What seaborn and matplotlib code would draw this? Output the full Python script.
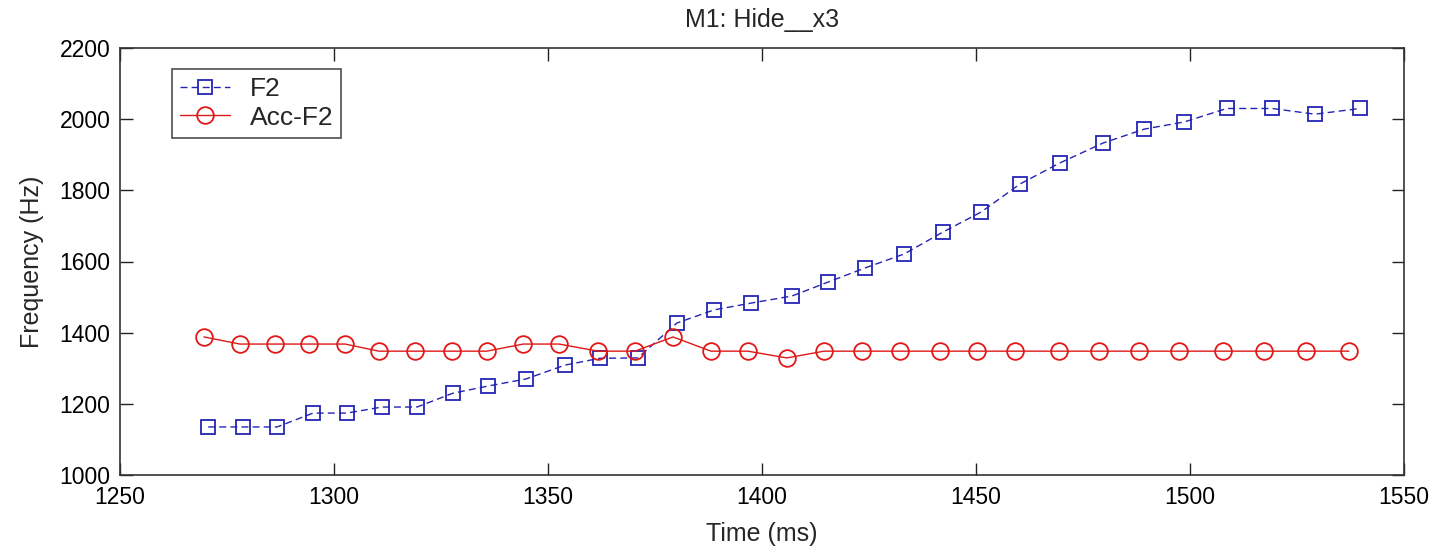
import numpy as np
import pandas as pd
import matplotlib
matplotlib.use("Agg")
import matplotlib.pyplot as plt
import seaborn as sns

# ---- data ----
f2_time = [1270.6, 1278.7, 1286.7, 1295.1, 1303.0, 1311.2, 1319.4, 1327.8, 1336.0, 1344.9,
           1354.0, 1362.1, 1371.0, 1380.1, 1388.8, 1397.4, 1407.0, 1415.4, 1424.1, 1433.2,
           1442.3, 1451.2, 1460.3, 1469.6, 1479.7, 1489.3, 1498.6, 1508.6, 1519.2, 1529.2, 1539.7]
f2_freq = [1135, 1135, 1135, 1174, 1174, 1191, 1191, 1230, 1250, 1270,
           1309, 1328, 1329, 1427, 1464, 1483, 1503, 1542, 1582, 1621,
           1683, 1739, 1818, 1877, 1933, 1972, 1992, 2030, 2030, 2014, 2030]
acc_time = [1269.6, 1278.0, 1286.2, 1294.2, 1302.6, 1310.5, 1318.9, 1327.6, 1335.7, 1344.2,
            1352.6, 1361.7, 1370.3, 1379.2, 1388.1, 1396.7, 1405.8, 1414.5, 1423.4, 1432.2,
            1441.6, 1450.2, 1459.1, 1469.4, 1478.7, 1488.1, 1497.4, 1507.7, 1517.3, 1527.1, 1537.1]
acc_freq = [1388, 1368, 1368, 1368, 1368, 1348, 1348, 1348, 1348, 1368,
            1368, 1348, 1348, 1388, 1348, 1348, 1329, 1348, 1348, 1348,
            1348, 1348, 1348, 1348, 1348, 1348, 1348, 1348, 1348, 1348, 1348]
x_ticks = [1250, 1300, 1350, 1400, 1450, 1500, 1550]
y_ticks = [1000, 1200, 1400, 1600, 1800, 2000, 2200]
title = "M1: Hide__x3"

sns.set_style("ticks")
plt.rcParams['font.family'] = ['Liberation Sans', 'DejaVu Sans']

fig = plt.figure(figsize=(14.37, 5.49), dpi=100)
ax = fig.add_axes([120/1437, 1-475/549, (1404-120)/1437, (475-48)/549])

blue = '#2424b4'
red = '#e01818'

sns.lineplot(x=f2_time, y=f2_freq, ax=ax, color=blue, linewidth=1.0,
             linestyle=(0, (5, 3)), marker='s', markersize=9.5,
             markerfacecolor='none', markeredgecolor=blue, markeredgewidth=1.3,
             label='F2', sort=False)
sns.lineplot(x=acc_time, y=acc_freq, ax=ax, color=red, linewidth=1.0,
             linestyle='-', marker='o', markersize=12,
             markerfacecolor='none', markeredgecolor=red, markeredgewidth=1.3,
             label='Acc-F2', sort=False)

ax.set_xlim(1250, 1550)
ax.set_ylim(1000, 2200)
ax.set_xticks(x_ticks)
ax.set_yticks(y_ticks)
ax.tick_params(direction='in', length=9, width=1, top=True, right=True,
               labelsize=16.5, colors='#222222', labelcolor='black')
ax.tick_params(axis='x', pad=8)
ax.tick_params(axis='y', pad=7)
for s in ax.spines.values():
    s.set_visible(True)
    s.set_color('#333333')
    s.set_linewidth(1.2)

ax.set_xlabel('Time (ms)', fontsize=18, labelpad=9)
ax.set_ylabel('Frequency (Hz)', fontsize=18, labelpad=11)
ax.set_title(title, fontsize=18, pad=15)

leg = ax.legend(loc='upper left', bbox_to_anchor=(0.0405, 0.951), fontsize=19,
                frameon=True, fancybox=False, edgecolor='#222222',
                handlelength=1.9, borderpad=0.3, labelspacing=0.18,
                handletextpad=0.75, borderaxespad=0)
leg.get_frame().set_linewidth(1.2)

fig.savefig('out.png', dpi=100)
